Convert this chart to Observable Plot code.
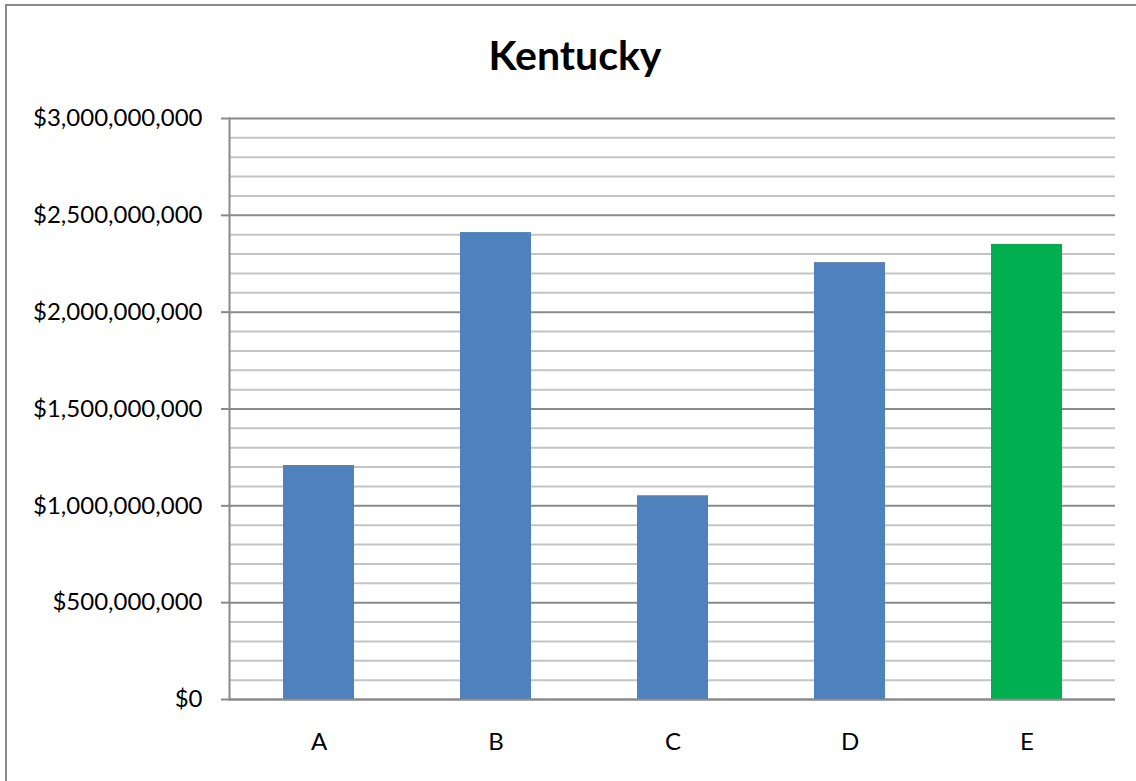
<!DOCTYPE html>
<html>
<head>
<meta charset="utf-8">
<script src="https://cdn.jsdelivr.net/npm/d3@7"></script>
<script src="https://cdn.jsdelivr.net/npm/@observablehq/plot@0.6"></script>
<style>
  html, body { margin: 0; padding: 0; background: #fff; overflow: hidden; }
  #wrap { position: relative; width: 1136px; height: 781px; overflow: hidden; background: #fff; }
  #border { position: absolute; left: 5px; top: 4px; width: 1200px; height: 900px; border: 2px solid #8a8a8a; box-sizing: border-box; pointer-events: none; }
  #title { position: absolute; left: 0; top: 34px; width: 1150px; text-align: center; font-family: Lato, sans-serif; font-weight: bold; font-size: 41px; line-height: 1; color: #000; }
  #chart { position: absolute; left: 0; top: 0; }
</style>
</head>
<body>
<div id="wrap">
  <div id="border"></div>
  <div id="title">Kentucky</div>
  <div id="chart"></div>
</div>
<script>
const categories = ["A", "B", "C", "D", "E"];
const values = [1208000000, 2411000000, 1052000000, 2256000000, 2350000000];
const barColors = ["#4F81BD", "#4F81BD", "#4F81BD", "#4F81BD", "#00B050"];
const yTicks = [0, 500000000, 1000000000, 1500000000, 2000000000, 2500000000, 3000000000];
const minorTicks = d3.range(0, 3000000001, 100000000).filter(v => v % 500000000 !== 0);

const data = categories.map((c, i) => ({cat: c, value: values[i], color: barColors[i]}));
const fmt = v => "$" + d3.format(",")(v);

const chart = Plot.plot({
  width: 1136,
  height: 781,
  marginLeft: 229,
  marginRight: 21,
  marginTop: 118,
  marginBottom: 82,
  style: {fontFamily: "Lato, sans-serif", fontSize: "24px", color: "#000", background: "transparent", overflow: "visible"},
  x: {domain: categories, paddingInner: 0.6, paddingOuter: 0.3, label: null},
  y: {domain: [0, 3000000000], label: null},
  marks: [
    Plot.ruleY(minorTicks, {stroke: "#c4c4c4", strokeWidth: 2}),
    Plot.ruleY(yTicks, {stroke: "#8a8a8a", strokeWidth: 2}),
    Plot.axisY({ticks: yTicks, tickFormat: fmt, tickSize: 8, tickPadding: 19, stroke: "#8a8a8a", strokeWidth: 2, fill: "#000", label: null, fontSize: 24}),
    Plot.frame({anchor: "left", stroke: "#8a8a8a", strokeWidth: 2}),
    Plot.barY(data, {x: "cat", y: "value", fill: "color"}),
    Plot.ruleY([0], {stroke: "#8a8a8a", strokeWidth: 2}),
    Plot.axisX({tickSize: 0, tickPadding: 33, fill: "#000", label: null, fontSize: 24})
  ]
});
document.getElementById("chart").appendChild(chart);
</script>
</body>
</html>
